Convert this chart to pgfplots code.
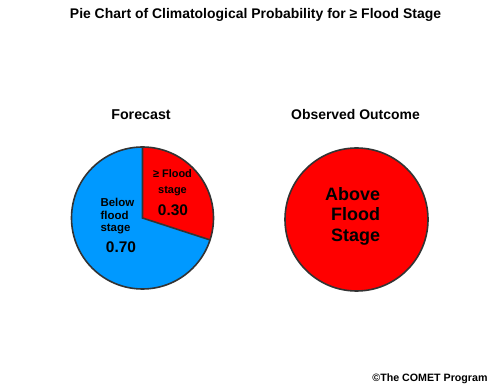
\documentclass[border=0pt]{standalone}
\usepackage{pgfplots}
\usepackage{pgfplotstable}
\pgfplotsset{compat=1.18}
\usepackage{fontspec}
\setmainfont{Liberation Sans}
\definecolor{pieRed}{RGB}{255,0,0}
\definecolor{pieBlue}{RGB}{0,153,255}
\definecolor{edge}{RGB}{51,51,51}
\pgfplotstableread{
part value
flood 0.30
below 0.70
}\forecast
\pgfplotstableread{
part value
above 1.00
}\observed
\begin{document}
\begin{tikzpicture}
\pgfplotstablegetelem{0}{value}\of\forecast
\pgfmathsetmacro\angA{90-360*\pgfplotsretval}
\pgfplotstablegetelem{1}{value}\of\forecast
\pgfmathsetmacro\angB{\angA-360*\pgfplotsretval}
\begin{axis}[width=498bp,height=392bp,scale only axis,
  xmin=0,xmax=498,ymin=0,ymax=392,hide axis,clip=false]
\path (axis cs:0,0) rectangle (axis cs:498,392);
% forecast pie
\fill[pieRed] (axis cs:142.5,174) -- (axis cs:142.5,245) arc[start angle=90,end angle=\angA,radius=71bp] -- cycle;
\fill[pieBlue] (axis cs:142.5,174) -- ++(\angA:71bp) arc[start angle=\angA,end angle=\angB,radius=71bp] -- cycle;
\draw[edge,line width=1.6bp] (axis cs:142.5,174) circle[radius=71bp];
\draw[edge,line width=1.6bp] (axis cs:142.5,245) -- (axis cs:142.5,174) -- ++(\angA:71bp);
% observed pie
\filldraw[fill=pieRed,draw=edge,line width=1.6bp] (axis cs:356.5,172.5) circle[radius=71.5bp];
% texts
\node[font=\fontsize{14}{16}\selectfont\bfseries] at (axis cs:255.5,377.5) {Pie Chart of Climatological Probability for ≥ Flood Stage};
\node[font=\fontsize{14.3}{16}\selectfont\bfseries] at (axis cs:141,277) {Forecast};
\node[font=\fontsize{14}{16}\selectfont\bfseries] at (axis cs:355.5,277) {Observed Outcome};
\node[font=\fontsize{11}{16}\selectfont\bfseries,align=center] at (axis cs:172.5,209) {≥ Flood\\stage};
\node[font=\fontsize{15.5}{18}\selectfont\bfseries] at (axis cs:173,182) {0.30};
\node[font=\fontsize{11.5}{12.5}\selectfont\bfseries,align=left,anchor=west] at (axis cs:97,175.5) {Below\\flood\\stage};
\node[font=\fontsize{15.5}{18}\selectfont\bfseries] at (axis cs:121,145) {0.70};
\node[font=\fontsize{18}{20.5}\selectfont\bfseries,align=right,anchor=east] at (axis cs:383.5,176) {Above\\Flood\\Stage};
\node[font=\fontsize{10.7}{12}\selectfont\bfseries,anchor=east] at (axis cs:491,13) {©The COMET Program};
\end{axis}
\end{tikzpicture}
\end{document}
